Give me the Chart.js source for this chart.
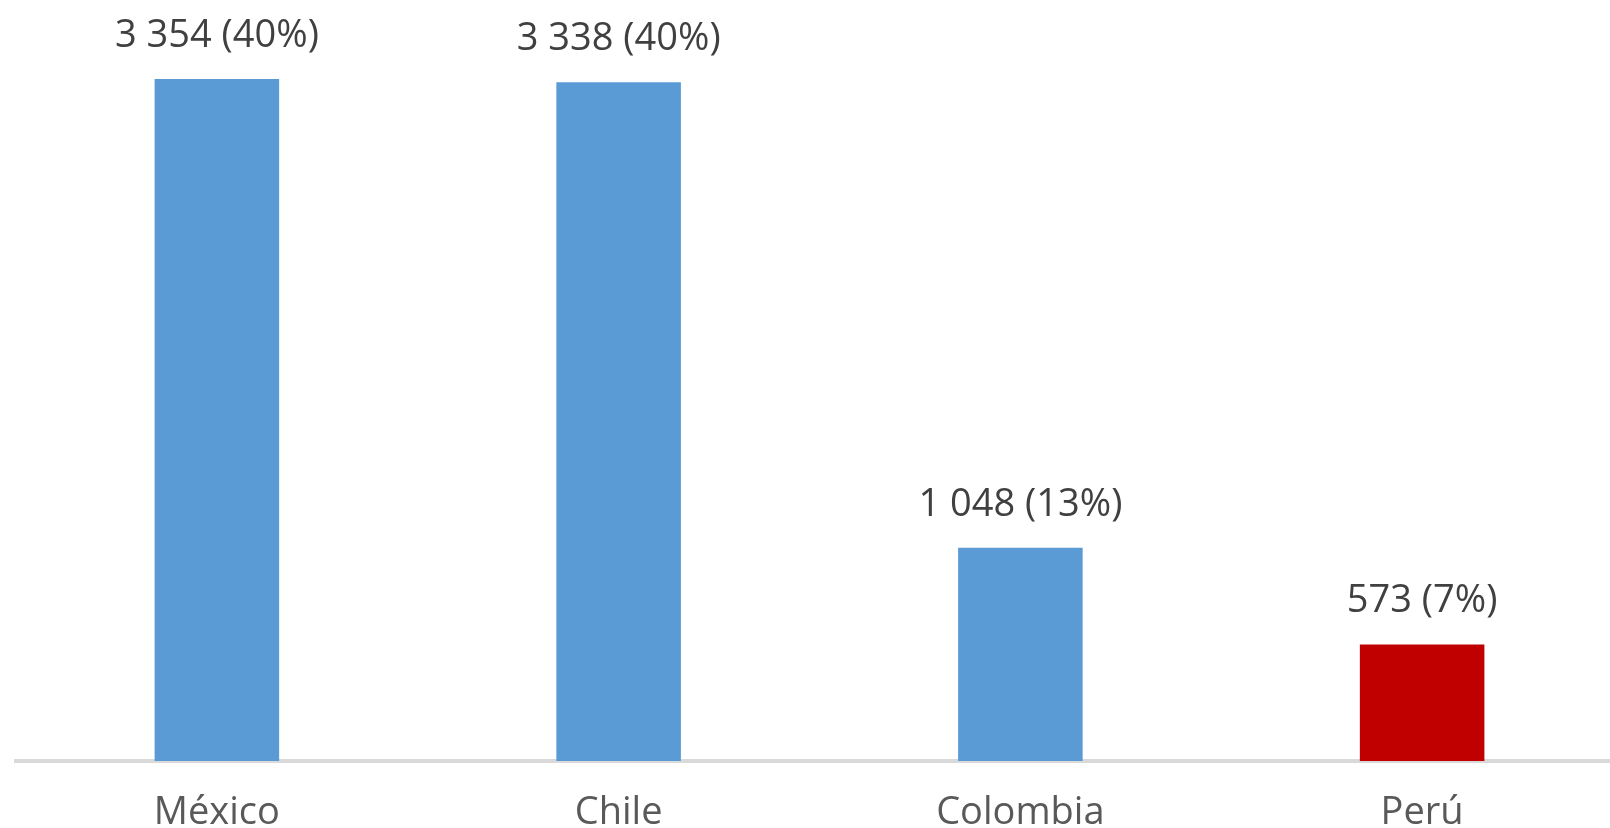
<!DOCTYPE html>
<html>
<head>
<meta charset="utf-8">
<script src="https://cdn.jsdelivr.net/npm/chart.js@4/dist/chart.umd.min.js"></script>
<style>
  html, body { margin: 0; padding: 0; background: #fff; overflow: hidden; }
  #wrap { width: 1623px; height: 828px; position: relative; }
</style>
</head>
<body>
<div id="wrap"><canvas id="barChart"></canvas></div>
<script>
let countries = ["México", "Chile", "Colombia", "Perú"];
let totals = [3354, 3338, 1048, 573];
let shares = [40, 40, 13, 7];
let barColors = ["#5B9BD5", "#5B9BD5", "#5B9BD5", "#C00000"];

const FONT = "'Open Sans', sans-serif";

function formatNumber(n) {
    // thousands with a space, as in the original
    return String(n).replace(/\B(?=(\d{3})+(?!\d))/g, " ");
}

// labels above the bars
const barLabels = {
    id: "barLabels",
    afterDatasetsDraw(chart) {
        let ctx = chart.ctx;
        let meta = chart.getDatasetMeta(0);
        ctx.save();
        ctx.font = "38px " + FONT;
        ctx.fillStyle = "#404040";
        ctx.textAlign = "center";
        ctx.textBaseline = "alphabetic";
        meta.data.forEach((bar, i) => {
            let text = formatNumber(totals[i]) + " (" + shares[i] + "%)";
            ctx.fillText(text, bar.x, bar.y - 32);
        });
        ctx.restore();
    }
};

let ctx = document.getElementById("barChart").getContext("2d");

new Chart(ctx, {
    type: "bar",
    data: {
        labels: countries,
        datasets: [{
            data: totals,
            backgroundColor: barColors,
            barPercentage: 0.31,
            categoryPercentage: 1
        }]
    },
    options: {
        responsive: true,
        maintainAspectRatio: false,
        animation: false,
        devicePixelRatio: 1,
        layout: { padding: { left: 16, right: 0, top: 0, bottom: 0 } },
        plugins: {
            legend: { display: false },
            tooltip: { enabled: false }
        },
        scales: {
            x: {
                grid: { display: false, drawTicks: false },
                border: { display: true, color: "#D9D9D9", width: 4 },
                ticks: {
                    color: "#595959",
                    font: { family: FONT, size: 38 },
                    padding: 29
                },
                afterFit(scale) { scale.height = 67; }
            },
            y: {
                display: false,
                min: 0,
                max: 3742
            }
        }
    },
    plugins: [barLabels]
});
</script>
</body>
</html>
